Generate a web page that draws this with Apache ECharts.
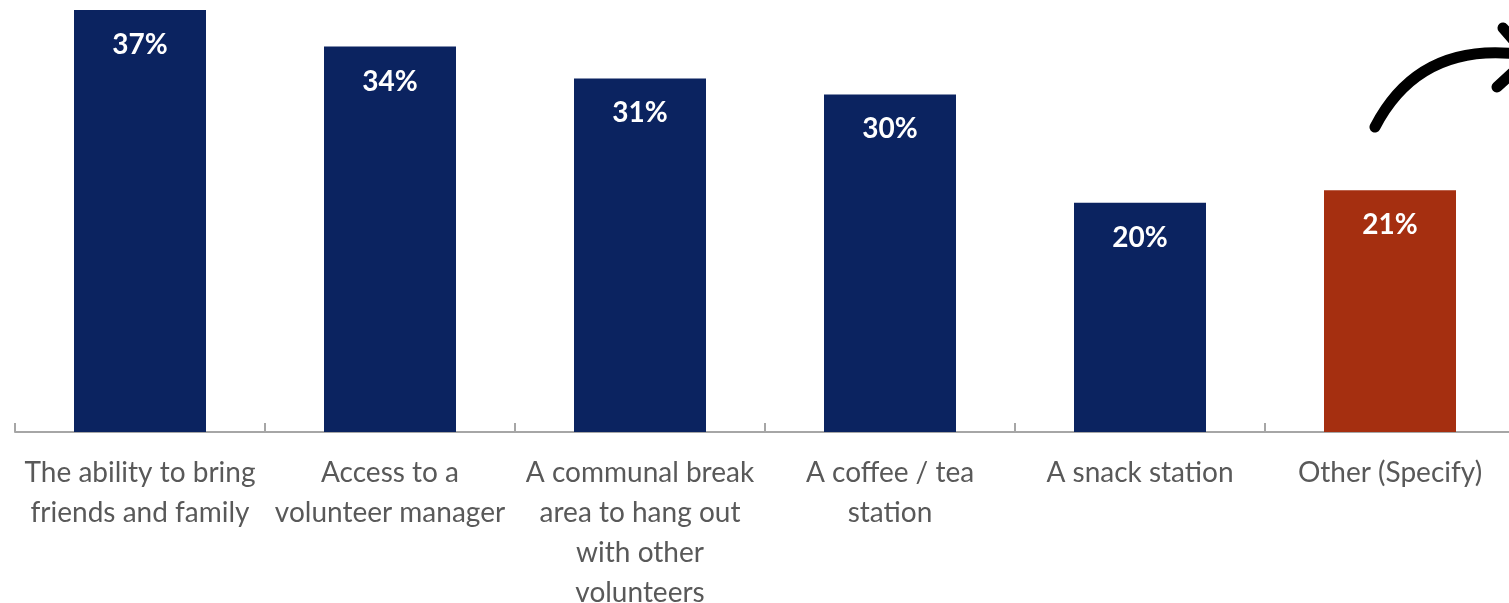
<!DOCTYPE html>
<html>
<head>
<meta charset="utf-8">
<script src="https://cdn.jsdelivr.net/npm/echarts@6/dist/echarts.min.js"></script>
<style>
  html, body { margin: 0; padding: 0; background: #fff; }
  #show_picture { width: 1509px; height: 603px; }
</style>
</head>
<body>
<div id="show_picture"></div>
<script>
const categories = [
    'The ability to bring\nfriends and family',
    'Access to a\nvolunteer manager',
    'A communal break\narea to hang out\nwith other\nvolunteers',
    'A coffee / tea\nstation',
    'A snack station',
    'Other (Specify)'
];
// bar heights; labels show them rounded
const values = [37, 33.8, 31, 29.6, 20.1, 21.2];
const barColors = ['#0b2360', '#0b2360', '#0b2360', '#0b2360', '#0b2360', '#a52f10'];

let myChart = echarts.init(document.getElementById('show_picture'));

let d = [];
for (let i = 0; i < values.length; i++) {
    d.push({ value: values[i], itemStyle: { color: barColors[i] } });
}

let option = {
    animation: false,
    textStyle: { fontFamily: 'Lato' },
    grid: { left: 15, right: -6, top: 10, bottom: 171, containLabel: false, outerBoundsMode: 'none' },
    xAxis: {
        type: 'category',
        data: categories,
        axisLine: { lineStyle: { color: '#a6a6a6', width: 2 } },
        axisTick: { show: true, inside: true, length: 9, lineStyle: { color: '#a6a6a6', width: 2 } },
        axisLabel: {
            interval: 0,
            margin: 21,
            color: '#595959',
            fontSize: 28,
            lineHeight: 40,
            fontFamily: 'Lato'
        }
    },
    yAxis: {
        type: 'value',
        min: 0,
        max: 37,
        show: false,
        splitLine: { show: false }
    },
    series: [
        {
            type: 'bar',
            barWidth: 132,
            data: d,
            label: {
                show: true,
                position: 'insideTop',
                distance: 21,
                formatter: (p) => Math.round(p.value) + '%',
                color: '#fff',
                fontWeight: 'bold',
                fontSize: 28,
                fontFamily: 'Lato'
            }
        }
    ],
    graphic: [
        {
            type: 'bezierCurve',
            shape: { x1: 1375, y1: 127, cpx1: 1420, cpy1: 40, x2: 1525, y2: 55 },
            style: { stroke: '#000', lineWidth: 11, fill: null, lineCap: 'round' }
        },
        {
            type: 'polyline',
            shape: { points: [[1503, 28], [1522, 50]] },
            style: { stroke: '#000', lineWidth: 11, lineCap: 'round' }
        },
        {
            type: 'polyline',
            shape: { points: [[1497, 87], [1522, 64]] },
            style: { stroke: '#000', lineWidth: 11, lineCap: 'round' }
        }
    ]
};

option && myChart.setOption(option);
</script>
</body>
</html>
